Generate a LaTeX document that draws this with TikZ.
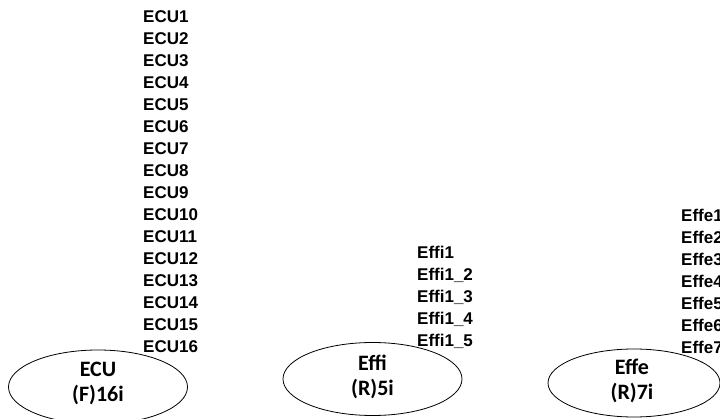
\documentclass[tikz,border=0pt]{standalone}
\usepackage{fontspec}
\setmainfont{Liberation Sans}
\newfontfamily\calfont{Carlito}
\usetikzlibrary{shapes.geometric}
\begin{document}
\begin{tikzpicture}[x=1pt,y=-1pt,
  item/.style={anchor=west,font=\fontsize{17}{20}\selectfont\bfseries,inner sep=0pt,text height=12.2pt,text depth=0pt},
  ell/.style={draw,ellipse,line width=0.8pt,inner sep=0pt},
  lbl/.style={font=\calfont\fontsize{22}{25}\selectfont\bfseries,align=center,inner sep=0pt}]
\useasboundingbox (0,0) rectangle (720,419);
% ellipses
\node[ell,minimum width=179pt,minimum height=74pt] (ecuE) at (98,387) {};
\node[ell,minimum width=179pt,minimum height=73pt] (effiE) at (372.5,379) {};
\node[ell,minimum width=172pt,minimum height=68pt] (effeE) at (634,383) {};
% labels
\node[lbl] (ecuL) at (98,383) {ECU\\(F)16i};
\node[lbl] (effiL) at (372.5,376.5) {Effi\\(R)5i};
\node[lbl] (effeL) at (632,380.5) {Effe\\(R)7i};
% item lists
\foreach \k in {1,...,16}{
  \node[item] (ecu\k) at (143,{16+22*(\k-1)}) {ECU\k};
}
\node[item] (effi1) at (417,252) {Effi1};
\foreach \k in {2,...,5}{
  \node[item] (effi\k) at (417,{252+22*(\k-1)}) {Effi1\_\k};
}
\foreach \k in {1,...,7}{
  \node[item] (effe\k) at (681,{215+22*(\k-1)}) {Effe\k};
}
\end{tikzpicture}
\end{document}
